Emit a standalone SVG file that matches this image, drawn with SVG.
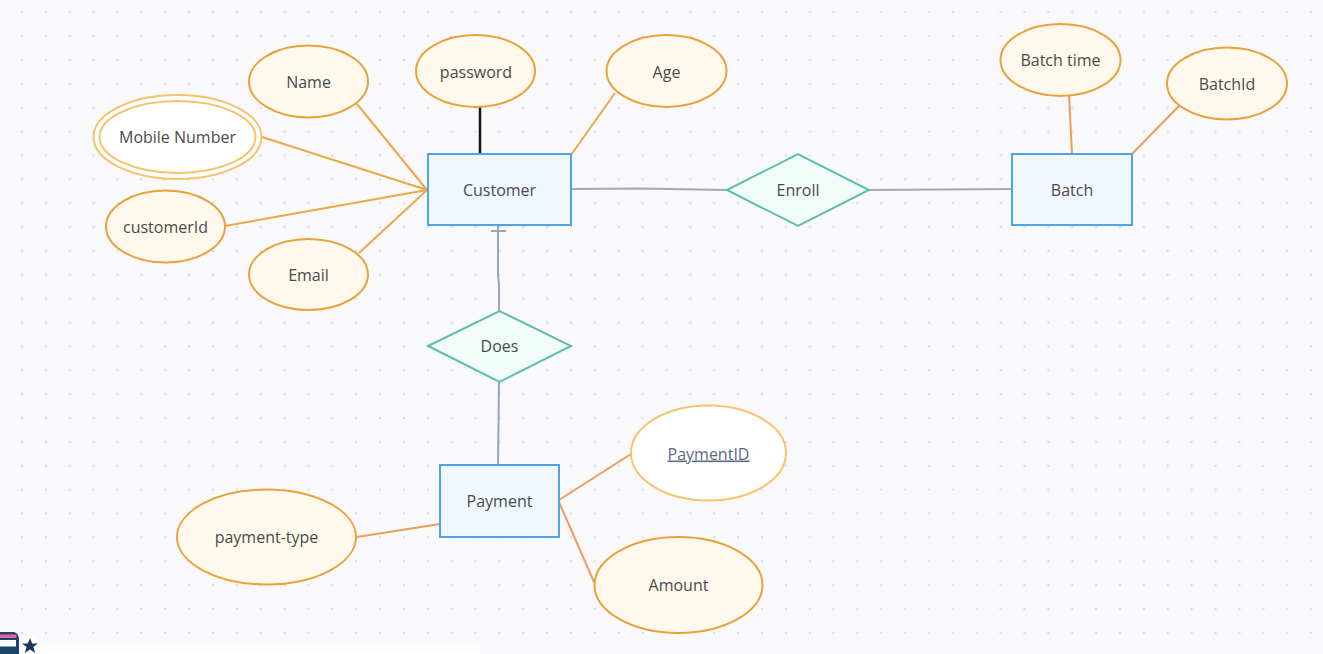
<svg xmlns="http://www.w3.org/2000/svg" width="1323" height="654" viewBox="0 0 1323 654">
<defs>
<pattern id="dots" x="10.07" y="0.3" width="23.87" height="23.87" patternUnits="userSpaceOnUse">
<circle cx="11.93" cy="11.93" r="1.3" fill="#dcdce3"/>
</pattern>
<linearGradient id="fade" x1="0" y1="0" x2="0" y2="1">
<stop offset="0" stop-color="#ffffff" stop-opacity="0"/>
<stop offset="1" stop-color="#ffffff" stop-opacity="1"/>
</linearGradient>
</defs>
<style>
.attr{fill:#fef9ec;stroke:#e9a23b;stroke-width:2}
.multi{fill:#ffffff;stroke:#f6c26a;stroke-width:2}
.key{fill:#ffffff;stroke:#f8c46a;stroke-width:2}
.ent{fill:#f0f7fe;stroke:#4ea5e6;stroke-width:2}
.rel{fill:#f1fbf8;stroke:#5cbfae;stroke-width:2}
.lbl{font-family:"Open Sans","Noto Sans","Liberation Sans",sans-serif;font-size:16px;fill:#4b4b4b;text-anchor:middle}
.ul{fill:#5c6a80;text-decoration:underline}
.oc{stroke:#eca748;stroke-width:2;fill:none}
.os{stroke:#ef9c55;stroke-width:2;fill:none}
.gc{stroke:#a7a7ad;stroke-width:2;fill:none}
.bc{stroke:#9aa4b6;stroke-width:2;fill:none}
</style>
<rect width="1323" height="654" fill="#f9f9fc"/>
<rect width="1323" height="654" fill="url(#dots)"/>

<g id="connectors">
<line class="oc" x1="357" y1="104" x2="427" y2="190"/>
<line class="oc" x1="262" y1="137" x2="427" y2="190"/>
<line class="oc" x1="225" y1="226" x2="427" y2="190"/>
<line class="oc" x1="359" y1="253" x2="427" y2="190"/>
<line x1="480" y1="107" x2="480" y2="154" stroke="#111111" stroke-width="2.5"/>
<line class="oc" x1="571" y1="155" x2="615" y2="93"/>
<circle cx="618" cy="92" r="1.2" fill="#222"/>
<polyline class="gc" points="572,189 640,188.5 727,190"/>
<line class="gc" x1="869" y1="190" x2="1012" y2="189"/>
<line class="os" x1="1069" y1="95" x2="1072" y2="154"/>
<line class="os" x1="1132" y1="154" x2="1179" y2="106"/>
<polyline class="bc" points="498,226 498,275 499,285 499,311"/>
<line class="bc" x1="491" y1="231" x2="506" y2="231"/>
<line class="bc" x1="499" y1="382" x2="498" y2="465"/>
<line class="os" x1="357" y1="537" x2="440" y2="524"/>
<line class="os" x1="559" y1="500" x2="631" y2="454"/>
<line class="os" x1="559" y1="502" x2="594" y2="582"/>
</g>

<g id="customer"><rect class="ent" x="428" y="154" width="143" height="71"/><text class="lbl" x="499.5" y="195.5">Customer</text></g>
<g id="batch"><rect class="ent" x="1012" y="154" width="120" height="71"/><text class="lbl" x="1072" y="195.5">Batch</text></g>
<g id="payment"><rect class="ent" x="440" y="465" width="119" height="72"/><text class="lbl" x="499.5" y="507">Payment</text></g>

<g id="enroll"><polygon class="rel" points="727,190 798,154 869,190 798,226"/><text class="lbl" x="798" y="195.5">Enroll</text></g>
<g id="does"><polygon class="rel" points="428,346 499.5,311 571,346 499.5,382"/><text class="lbl" x="499.5" y="352">Does</text></g>

<g id="name"><ellipse class="attr" cx="308.5" cy="81.5" rx="59.5" ry="36"/><text class="lbl" x="308.5" y="88">Name</text></g>
<g id="password"><ellipse class="attr" cx="475.5" cy="71" rx="59.5" ry="36"/><text class="lbl" x="476" y="77.5">password</text></g>
<g id="age"><ellipse class="attr" cx="666.5" cy="71" rx="60" ry="36"/><text class="lbl" x="666.5" y="77.5">Age</text></g>
<g id="mobile"><ellipse class="multi" cx="177.5" cy="137" rx="84" ry="42"/><ellipse class="multi" cx="177.5" cy="137" rx="78" ry="36"/><text class="lbl" x="177.5" y="143">Mobile Number</text></g>
<g id="customerId"><ellipse class="attr" cx="165.5" cy="226.5" rx="59.5" ry="36"/><text class="lbl" x="165.5" y="232.5">customerId</text></g>
<g id="email"><ellipse class="attr" cx="308.5" cy="274.5" rx="59.5" ry="35.5"/><text class="lbl" x="308.5" y="280.5">Email</text></g>
<g id="batchtime"><ellipse class="attr" cx="1060.5" cy="60" rx="60" ry="36"/><text class="lbl" x="1060.5" y="66">Batch time</text></g>
<g id="batchid"><ellipse class="attr" cx="1227" cy="83.5" rx="60" ry="36"/><text class="lbl" x="1227" y="89.5">BatchId</text></g>
<g id="paymentid"><ellipse class="key" cx="708.5" cy="453" rx="77.5" ry="47.5"/><text class="lbl ul" x="708.5" y="459.5">PaymentID</text></g>
<g id="paymenttype"><ellipse class="attr" cx="266.5" cy="537" rx="89.5" ry="47.5"/><text class="lbl" x="266.5" y="543">payment-type</text></g>
<g id="amount"><ellipse class="attr" cx="678.5" cy="585" rx="84" ry="48"/><text class="lbl" x="678.5" y="591">Amount</text></g>

<rect x="40" y="638" width="440" height="16" fill="url(#fade)"/>
<path d="M0,632 L14,632 Q19,633 19,640 L19,654 L0,654 Z" fill="#1c4468"/>
<path d="M0,634.5 L16.5,634.5 L16.5,638 L0,638 Z" fill="#e2649e"/>
<path d="M0,640 L16,640 L16,646.5 L0,646.5 Z" fill="#ffffff"/>
<circle cx="30" cy="646" r="10" fill="#ffffff"/>
<polygon points="30,638 32.2,643.5 38,643.5 33.4,647 35.2,653 30,649.5 24.8,653 26.6,647 22,643.5 27.8,643.5" fill="#1c3a58"/>
</svg>
